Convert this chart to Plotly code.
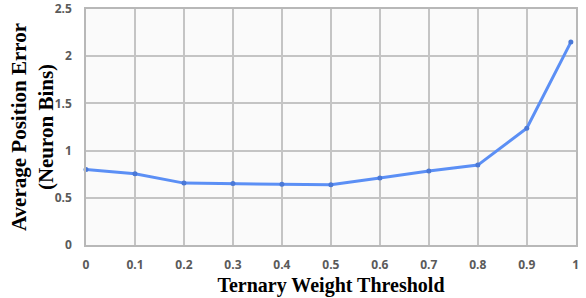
import plotly.graph_objects as go

thresholds = [0, 0.1, 0.2, 0.3, 0.4, 0.5, 0.6, 0.7, 0.8, 0.9, 0.99]
avg_error = [0.80, 0.756, 0.656, 0.652, 0.645, 0.638, 0.711, 0.785, 0.847, 1.237, 2.15]
x_ticks = [0, 0.1, 0.2, 0.3, 0.4, 0.5, 0.6, 0.7, 0.8, 0.9, 1]
x_tick_labels = ["0", "0.1", "0.2", "0.3", "0.4", "0.5", "0.6", "0.7", "0.8", "0.9", "1"]
y_ticks = [0, 0.5, 1, 1.5, 2, 2.5]
y_tick_labels = ["0", "0.5", "1", "1.5", "2", "2.5"]
x_title = "Ternary Weight Threshold"
y_title = "Average Position Error<br>(Neuron Bins)"

fig = go.Figure()
fig.add_trace(go.Scatter(
    x=thresholds, y=avg_error, mode="lines+markers",
    line=dict(color="#5b8ff5", width=3),
    marker=dict(color="#4a78d6", size=5),
    showlegend=False, cliponaxis=False,
))

tick_font = dict(family="Open Sans", size=12, color="#5a5a5a")
title_font_x = dict(family="Liberation Serif", size=20, color="black")
title_font_y = dict(family="Liberation Serif", size=21, color="black")

fig.update_layout(
    width=586, height=298,
    margin=dict(l=86, r=10, t=9, b=53),
    paper_bgcolor="white",
    plot_bgcolor="#fafafa",
    xaxis=dict(
        range=[0, 1.0005], tickvals=x_ticks,
        ticktext=["<b>%s</b>" % t for t in x_tick_labels],
        showgrid=True, gridcolor="#c4c4c4", gridwidth=1.5,
        showline=True, linecolor="#b8b8b8", linewidth=1.5, mirror=True,
        zeroline=False, tickfont=tick_font, ticks="outside", ticklen=8, tickcolor="rgba(0,0,0,0)",
        automargin=False, ticklabeloverflow="allow",
        title=dict(text="<b>%s</b>" % x_title, font=title_font_x, standoff=6),
    ),
    yaxis=dict(
        range=[0, 2.501], tickvals=y_ticks,
        ticktext=["<b>%s</b>" % t for t in y_tick_labels],
        showgrid=True, gridcolor="#c4c4c4", gridwidth=1.5,
        showline=True, linecolor="#b8b8b8", linewidth=1.5, mirror=True,
        zeroline=False, tickfont=tick_font, ticks="outside", ticklen=10, tickcolor="rgba(0,0,0,0)",
        automargin=False, ticklabeloverflow="allow",
    ),
    annotations=[dict(
        text="<b>%s</b>" % y_title, font=title_font_y, textangle=-90,
        xref="paper", yref="paper", x=0, y=0.5, xshift=-54,
        xanchor="center", yanchor="middle", showarrow=False,
    )],
)

fig.write_html(
    "out.html",
    config={"displayModeBar": False},
    post_script="document.body.style.margin='0';document.body.style.padding='0';",
)
